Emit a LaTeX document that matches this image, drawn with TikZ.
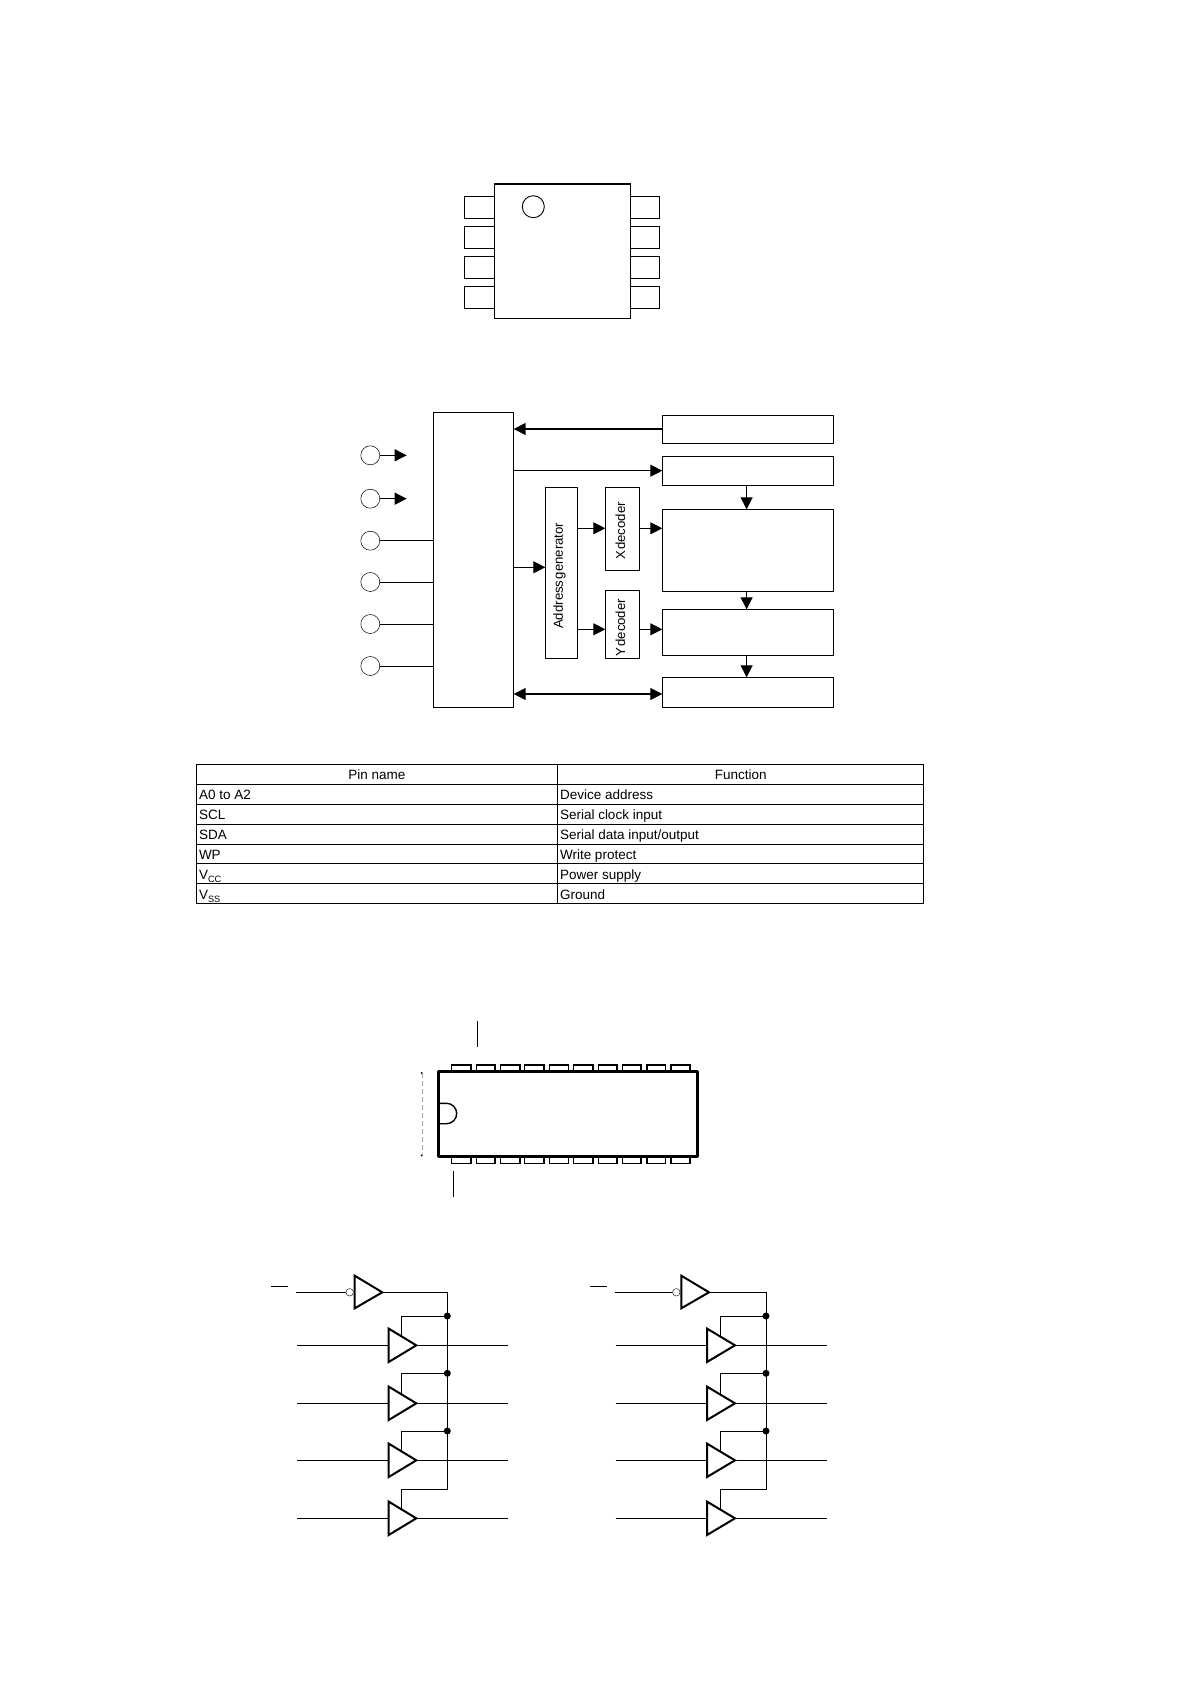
\documentclass[tikz,border=0pt]{standalone}
\usepackage{fontspec}
\setmainfont{Liberation Sans}
\usetikzlibrary{arrows.meta}
\tikzset{
  x=1pt,y=-1pt,
  blk/.style={draw,line width=1pt,fill=white,inner sep=0,outer sep=0},
  wire/.style={draw,line width=1pt},
  arr/.style={line width=1pt,-{Triangle[length=12pt,width=12pt]}},
  darr/.style={line width=1.3pt,{Triangle[length=12pt,width=12pt]}-{Triangle[length=12pt,width=12pt]}},
  pad/.style={draw,circle,line width=0.5pt,minimum size=19pt,inner sep=0,outer sep=0},
  cell/.style={font=\fontsize{13.5}{15}\selectfont,inner sep=0,outer sep=0,anchor=base west},
  vtext/.style={rotate=90,font=\fontsize{13.2}{15}\selectfont,inner sep=0,outer sep=0},
  tri/.style={line width=2pt,line join=miter},
  dotn/.style={circle,fill=black,inner sep=0,outer sep=0,minimum size=7pt},
  bub/.style={circle,draw,line width=0.4pt,fill=white,inner sep=0,outer sep=0,minimum size=7.5pt},
}
\newcommand{\rbox}[5]{\node[blk,minimum width=#4-#2,minimum height=#5-#3,anchor=north west] (#1) at (#2,#3) {};}
\newcommand{\dippin}[4]{\draw[line width=1.2pt] (#1,#3) -- (#1,#4) -- (#2,#4) -- (#2,#3);}
\begin{document}
\begin{tikzpicture}
\useasboundingbox (0,0) rectangle (1191,1684);
% --- SOP package ---
\foreach \n/\t in {a/196.3,b/226.3,c/256.7,d/286.7}{
  \draw[line width=1.1pt] (464.3,\t) rectangle (494.3,\t+22);
  \draw[line width=1.1pt] (630.7,\t) rectangle (659.3,\t+22);
}
\node[blk,line width=1.2pt,minimum width=136.4pt,minimum height=134.3pt,anchor=north west] (sop) at (494.3,184) {};
\node[draw,circle,line width=0.9pt,minimum size=22pt,inner sep=0] (mark) at (533.3,206.7) {};
% --- block diagram ---
\rbox{ctl}{433.3}{412.7}{513.7}{707.3}
\rbox{hv}{662.3}{415.3}{833.3}{443.3}
\rbox{lat}{662.3}{456.3}{833.3}{485.3}
\rbox{arrayb}{662.3}{509.3}{833.3}{591.3}
\rbox{sense}{662.3}{609.3}{833.3}{655.3}
\rbox{io}{662.3}{677.3}{833.3}{707.3}
\rbox{addr}{545.3}{487.3}{577.7}{658.3}
\rbox{xd}{605.3}{487.3}{639.3}{570.7}
\rbox{yd}{605.3}{590.3}{639.3}{658.3}
\node[vtext,xshift=-3pt,yshift=2pt] at (addr.center) {Address\hspace{1.2pt}generator};
\node[vtext,xshift=-2pt,yshift=2pt] at (xd.center) {X\hspace{1.2pt}decoder};
\node[vtext,xshift=-3.5pt,yshift=2pt] at (yd.center) {Y\hspace{1.2pt}decoder};
\foreach \n/\y in {p1/455.3,p2/498.7,p3/540.7,p4/582,p5/624,p6/666}
  \node[pad] (\n) at (370.3,\y) {};
\coordinate (e1) at (406.7,455.3);
\coordinate (e2) at (406.7,498.7);
\draw[arr] (p1) -- (e1);
\draw[arr] (p2) -- (e2);
\draw[wire] (p3) -- (p3-|ctl.west);
\draw[wire] (p4) -- (p4-|ctl.west);
\draw[wire] (p5) -- (p5-|ctl.west);
\draw[wire] (p6) -- (p6-|ctl.west);
\draw[line width=1.6pt,-{Triangle[length=12pt,width=12pt]}] (hv.west|-0,429) -- (ctl.east|-0,429);
\draw[arr] (ctl.east|-0,470.7) -- (lat.west|-0,470.7);
\draw[arr,line width=1.2pt] (ctl.east|-0,567.3) -- (addr.west|-0,567.3);
\draw[arr] (addr.east|-0,528.3) -- (xd.west|-0,528.3);
\draw[arr] (addr.east|-0,629.3) -- (yd.west|-0,629.3);
\draw[arr] (xd.east|-0,528.3) -- (arrayb.west|-0,528.3);
\draw[arr] (yd.east|-0,629.3) -- (sense.west|-0,629.3);
\draw[arr] (746.6,0|-lat.south) -- (746.6,0|-arrayb.north);
\draw[arr] (746.6,0|-arrayb.south) -- (746.6,0|-sense.north);
\draw[arr] (746.6,0|-sense.south) -- (746.6,0|-io.north);
\draw[darr] (ctl.east|-0,694) -- (io.west|-0,694);
% --- table ---
\draw[line width=0.9pt] (196.3,764.3) rectangle (923.3,903.3);
\foreach \y in {784.3,804.3,824.7,844.3,863.3,883.3} \draw[line width=0.9pt] (196.3,\y) -- (923.3,\y);
\draw[line width=0.9pt] (557.5,764.3) -- (557.5,903.3);
\node[cell,anchor=base] at (377,779) {Pin name};
\node[cell,anchor=base] at (740.7,779) {Function};
\foreach \y/\a/\b in {804.3/A0 to A2/Device address,824.7/SCL/Serial clock input,844.3/SDA/Serial data input\slash output,864.3/WP/Write protect,884/{V\raisebox{-3pt}{\fontsize{9.2}{12}\selectfont CC}}/Power supply,904.8/{V\raisebox{-3pt}{\fontsize{9.2}{12}\selectfont SS}}/Ground}{
  \node[cell] at (199,\y-5) {\a};
  \node[cell] at (560,\y-5) {\b};
}
% --- DIP package ---
\foreach \a/\b in {155/213,230/285,302/360,374/432,449/505,521/579,596/651,668/723,741/796,813/870}{
  \dippin{400+\a/3}{400+\b/3}{1071}{1065}
  \dippin{400+\a/3}{400+\b/3}{1156}{1163.3}
}
\draw[line width=3pt,line join=round,fill=white] (438.3,1071) rectangle (697.3,1156);
\draw[line width=1.4pt] (438.3,1103.3) -- (446.5,1103.3) arc[start angle=-90,end angle=90,radius=10.2] -- (438.3,1123.7);
\draw[line width=1pt] (477.3,1021) -- (477.3,1046.7);
\draw[line width=1pt] (453.3,1171.3) -- (453.3,1196.7);
\draw[line width=0.4pt,gray!70,dash pattern=on 5pt off 3pt] (421.7,1073) -- (421.7,1155);
\fill (421.7,1073) circle (1pt);
\fill (421.7,1155.5) circle (1pt);
% --- buffers ---
\foreach \s/\ox/\ix/\ibx/\ptx/\obx/\otx/\bx/\tl/\tt/\sx/\ou in {
  L/271/288/296/354.7/297/388.7/447.3/416.3/382.3/401.3/508,
  R/590/607/615/681.3/615.7/707/766/735/709/720.3/826.7}{
  \draw[line width=1pt] (\ox,1286) -- (\ix,1286);
  \coordinate (top\s) at (\bx,1292.3);
  \draw[line width=1pt] (\ibx,1292.3) -- (\ptx-5,1292.3);
  \draw[tri] (\ptx,1275.7) -- (\tt,1292.3) -- (\ptx,1308.3) -- cycle;
  \node[bub] (bub\s) at (\ptx-5,1292.3) {};
  \draw[line width=1pt] (\tt,1292.3) -- (top\s) -- (\bx,1489.3) -- (\sx,1489.3) -- (\sx,1509.3);
  \foreach \c/\d in {1345.3/1316,1403.3/1373.3,1460.3/1431}{
    \draw[line width=1pt] (\bx,\d) -- (\sx,\d) -- (\sx,\c-9);
    \node[dotn] at (\bx,\d) {};
  }
  \foreach \c in {1345.3,1403.3,1460.3,1518.3}{
    \draw[line width=1pt] (\obx,\c) -- (\otx,\c);
    \draw[line width=1pt] (\tl,\c) -- (\ou,\c);
    \draw[tri] (\otx,\c-16.7) -- (\tl,\c) -- (\otx,\c+16.7) -- cycle;
  }
}
\end{tikzpicture}
\end{document}
